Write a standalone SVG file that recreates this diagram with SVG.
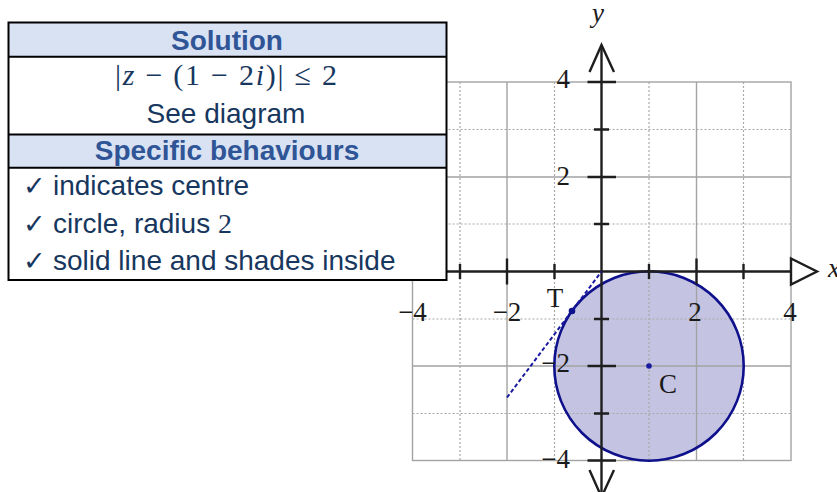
<svg xmlns="http://www.w3.org/2000/svg" width="837" height="492" viewBox="0 0 837 492">
<defs>
<style>
.gs{stroke:#a3a3a3;stroke-width:1.4;fill:none}
.gd{stroke:#a8a8a8;stroke-width:1.2;stroke-dasharray:2 2;fill:none}
.ax{stroke:#1e1e1e;stroke-width:2.4;fill:none}
.lbl{font-family:"Liberation Serif","Times New Roman",serif;font-size:27px;fill:#1a1a1a}
.hd{font-family:"Liberation Sans",Arial,sans-serif;font-size:28px;font-weight:bold;fill:#2f5597}
.bd{font-family:"Liberation Sans",Arial,sans-serif;font-size:28px;fill:#17375e}
.ck{font-family:"DejaVu Sans",sans-serif;font-size:27px;font-weight:bold;fill:#17375e}
.hdr{fill:#d9e2f3}
</style>
</defs>
<rect width="837" height="492" fill="#ffffff"/>

<g id="region-fill">
<circle cx="649" cy="366" r="94.7" fill="#c4c4e2"/>
</g>

<g id="grid">
<path class="gd" d="M460 82V460.5M554.5 82V460.5M649 82V460.5M743.5 82V460.5M412.5 129.5H791M412.5 224H791M412.5 319H791M412.5 413.5H791"/>
<path class="gs" d="M507 82V460.5M696.5 82V460.5M412.5 177H791M412.5 366H791"/>
<rect class="gs" x="412.5" y="82" width="378.5" height="378.5"/>
</g>

<g id="circle">
<circle cx="649" cy="366" r="94.7" fill="none" stroke="#0f108c" stroke-width="2.6"/>
</g>

<g id="axes">
<path class="ax" d="M380 271.5H791"/>
<path class="ax" d="M791 258.5L817 271.5L791 284.5Z" fill="#ffffff"/>
<path class="ax" d="M601.5 46V497"/>
<path class="ax" d="M589.5 72L601.5 45L614 72"/>
<path class="ax" d="M589.5 470L601.5 497L614 470"/>
<path class="ax" d="M587.5 82H616M587.5 177H616M587.5 366H616M587.5 460.5H616M594 129.5H609M594 224H609M594 319H609M594 413.5H609"/>
<path class="ax" d="M507 258.5V284.5M696.5 258.5V284.5M460 264V279M554.5 264V279M649 264V279M743.5 264V279"/>
<text class="lbl" x="598" y="22" text-anchor="middle" font-style="italic">y</text>
<text class="lbl" x="828" y="277" font-style="italic">x</text>
</g>

<g id="tick-labels">
<text class="lbl" x="570" y="88" text-anchor="end">4</text>
<text class="lbl" x="570" y="185" text-anchor="end">2</text>
<text class="lbl" x="570" y="372" text-anchor="end">−2</text>
<text class="lbl" x="570" y="468" text-anchor="end">−4</text>
<text class="lbl" x="412.5" y="321" text-anchor="middle">−4</text>
<text class="lbl" x="507" y="321" text-anchor="middle">−2</text>
<text class="lbl" x="695" y="321" text-anchor="middle">2</text>
<text class="lbl" x="790" y="321" text-anchor="middle">4</text>
</g>

<g id="connectors">
<path d="M507 397.5L601.5 271.5" stroke="#1a1aa0" stroke-width="2" stroke-dasharray="4 2.5" fill="none"/>
</g>

<g id="point-T">
<circle cx="572" cy="311" r="3.3" fill="#0f108c"/>
<text class="lbl" x="555" y="307" text-anchor="middle">T</text>
</g>

<g id="point-C">
<circle cx="649" cy="366" r="2.8" fill="#1a1aa0"/>
<text class="lbl" x="668" y="393" text-anchor="middle">C</text>
</g>

<g id="table">
<rect x="8.5" y="22.5" width="438" height="257.5" fill="#ffffff"/>
<rect class="hdr" x="8.5" y="22.5" width="438" height="34"/>
<rect class="hdr" x="8.5" y="134.5" width="438" height="33"/>
<path d="M8.5 56.7H446.5M8.5 134.5H446.5M8.5 167.7H446.5" stroke="#000" stroke-width="2"/>
<rect x="8.5" y="22.5" width="438" height="257.5" fill="none" stroke="#000" stroke-width="2"/>
<text class="hd" x="227" y="50" text-anchor="middle">Solution</text>
<text x="226" y="85" text-anchor="middle" textLength="222" lengthAdjust="spacing" font-family="'Liberation Serif','Times New Roman',serif" font-size="30" fill="#17375e">|<tspan font-style="italic">z</tspan> − (1 − 2<tspan font-style="italic">i</tspan>)| ≤ 2</text>
<text class="bd" x="226" y="123" text-anchor="middle">See diagram</text>
<text class="hd" x="227" y="160" text-anchor="middle">Specific behaviours</text>
<text class="ck" x="23" y="195">✓</text>
<text class="bd" x="53" y="195">indicates centre</text>
<text class="ck" x="23" y="233">✓</text>
<text class="bd" x="53" y="233">circle, radius <tspan font-family="'Liberation Serif','Times New Roman',serif">2</tspan></text>
<text class="ck" x="23" y="270">✓</text>
<text class="bd" x="53" y="270">solid line and shades inside</text>
</g>
</svg>
